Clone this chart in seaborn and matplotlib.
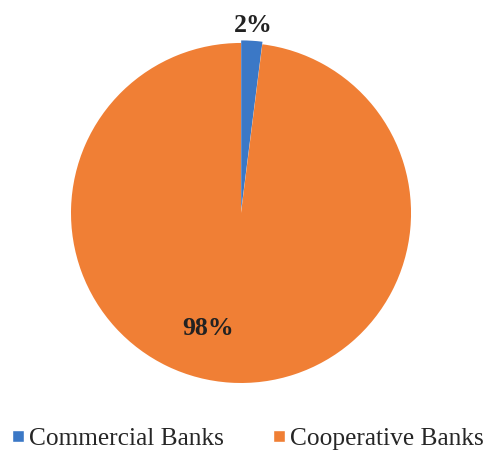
import matplotlib
matplotlib.use("Agg")
import matplotlib.pyplot as plt
import seaborn as sns
from matplotlib.lines import Line2D

sns.set_style("white")
plt.rcParams['font.family'] = ['Liberation Serif', 'DejaVu Serif']

categories = ["Commercial Banks", "Cooperative Banks"]
values = [2, 98]
labels = ["2%", "98%"]
colors = ["#3b78c6", "#f07f35"]

fig = plt.figure(figsize=(4.83, 4.59), dpi=100)
ax = fig.add_axes([0.499 - 0.352, 0.536 - 0.3705, 0.704, 0.741])
wedges, _ = ax.pie(values, colors=colors, startangle=90, counterclock=False,
                   explode=[0.015, 0], wedgeprops=dict(linewidth=0))
ax.set_xlim(-1, 1)
ax.set_ylim(-1, 1)
ax.set_aspect('equal')
for w in wedges:
    w.set_clip_on(False)

# percentage labels
ax.text(0.07, 1.105, labels[0], ha='center', va='center', fontsize=18.5, fontweight='bold',
        color='#222222', clip_on=False)
ax.text(-0.195, -0.68, labels[1], ha='center', va='center', fontsize=18.5, fontweight='bold',
        color='#222222')

handles = [Line2D([0], [0], marker='s', color='w', markerfacecolor=c, markersize=9, linestyle='')
           for c in colors]
fig.legend(handles, categories, loc='center left', bbox_to_anchor=(0.017, 0.045), ncol=2,
           frameon=False, fontsize=18.3, handletextpad=0.0, columnspacing=1.8,
           handlelength=0.8, borderaxespad=0, borderpad=0)

fig.savefig("out.png", dpi=100)
